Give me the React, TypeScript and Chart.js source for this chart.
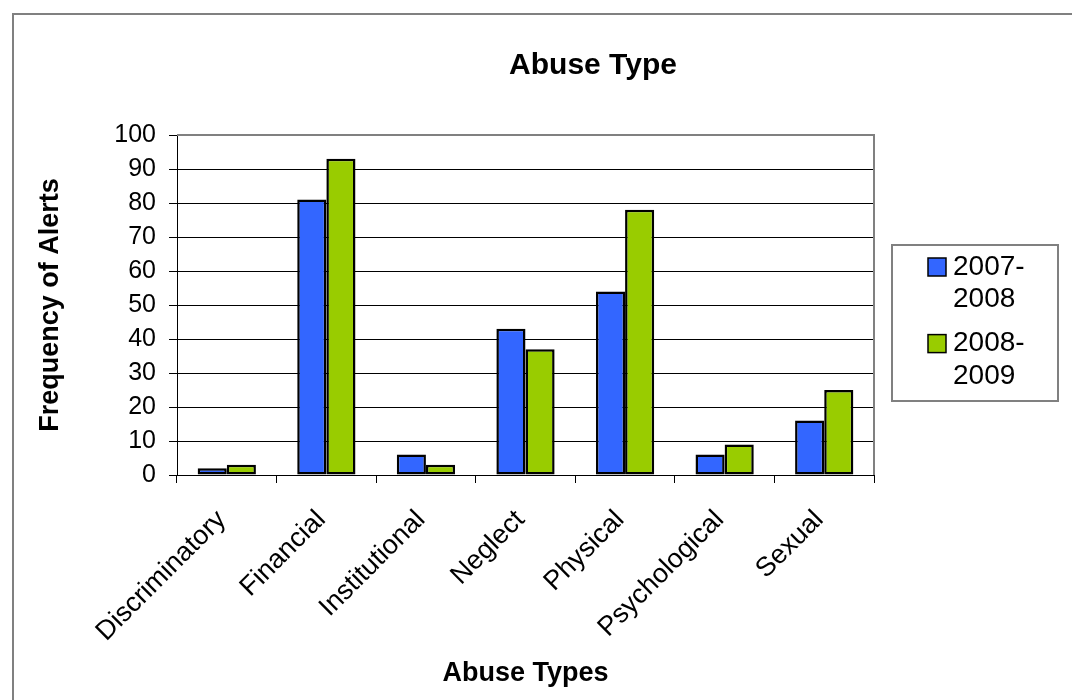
import React, { useEffect, useRef } from 'react';
import { Chart, registerables } from 'chart.js';

Chart.register(...registerables);

const CHART_TITLE = 'Abuse Type';
const X_TITLE = 'Abuse Types';
const Y_TITLE = 'Frequency of Alerts';
const CATEGORIES = ['Discriminatory', 'Financial', 'Institutional', 'Neglect', 'Physical', 'Psychological', 'Sexual'];
const SERIES_LABELS = ['2007-2008', '2008-2009'];
const VALUES_2007_2008 = [2, 81, 6, 43, 54, 6, 16];
const VALUES_2008_2009 = [3, 93, 3, 37, 78, 9, 25];
const SERIES_COLORS = ['#3366FF', '#99CC00'];
const Y_MIN = 0;
const Y_MAX = 100;
const Y_STEP = 10;

const FONT = '"Liberation Sans", Arial, Helvetica, sans-serif';

const decorPlugin = {
  id: 'decor',
  beforeDraw(chart: any) {
    const ctx = chart.ctx;
    ctx.save();
    ctx.fillStyle = '#ffffff';
    ctx.fillRect(0, 0, chart.width, chart.height);
    ctx.strokeStyle = '#808080';
    ctx.lineWidth = 2;
    ctx.beginPath();
    ctx.moveTo(13, chart.height + 10);
    ctx.lineTo(13, 14);
    ctx.lineTo(chart.width + 10, 14);
    ctx.stroke();
    ctx.restore();
  },
  afterDraw(chart: any) {
    const ctx = chart.ctx;
    const { left, top, right, bottom } = chart.chartArea;
    ctx.save();
    // plot area border (top and right)
    ctx.strokeStyle = '#808080';
    ctx.lineWidth = 2;
    ctx.beginPath();
    ctx.moveTo(left, top);
    ctx.lineTo(right, top);
    ctx.lineTo(right, bottom);
    ctx.stroke();

    // chart title
    ctx.fillStyle = '#000';
    ctx.font = `bold 30px ${FONT}`;
    ctx.textAlign = 'center';
    ctx.textBaseline = 'middle';
    ctx.fillText(CHART_TITLE, 593, 66);

    // legend
    ctx.strokeStyle = '#808080';
    ctx.lineWidth = 2;
    ctx.strokeRect(892, 245, 166, 156);
    ctx.font = `28px ${FONT}`;
    ctx.textAlign = 'left';
    chart.data.datasets.forEach((ds: any, i: number) => {
      const y0 = 267 + i * 76.6;
      ctx.fillStyle = ds.backgroundColor;
      ctx.fillRect(928, y0 - 9, 18, 18);
      ctx.strokeStyle = '#000';
      ctx.lineWidth = 1.5;
      ctx.strokeRect(928, y0 - 9, 18, 18);
      const lines = String(ds.label).replace('-', '-\n').split('\n');
      ctx.fillStyle = '#000';
      lines.forEach((ln: string, j: number) => {
        ctx.fillText(ln, 953, y0 + j * 32.5);
      });
    });
    ctx.restore();
  },
};

export default function App() {
  const ref = useRef<HTMLCanvasElement>(null);
  useEffect(() => {
    if (!ref.current) return;
    const chart = new Chart(ref.current, {
      type: 'bar',
      data: {
        labels: CATEGORIES,
        datasets: [
          {
            label: SERIES_LABELS[0],
            data: VALUES_2007_2008,
            backgroundColor: SERIES_COLORS[0],
            borderColor: '#000',
            borderWidth: 2.5,
            borderSkipped: false,
            barPercentage: 1,
            categoryPercentage: 0.585,
          },
          {
            label: SERIES_LABELS[1],
            data: VALUES_2008_2009,
            backgroundColor: SERIES_COLORS[1],
            borderColor: '#000',
            borderWidth: 2.5,
            borderSkipped: false,
            barPercentage: 1,
            categoryPercentage: 0.585,
          },
        ],
      },
      options: {
        animation: false,
        responsive: false,
        devicePixelRatio: 1,
        layout: { padding: { left: 20, right: 198, top: 135, bottom: 0 } },
        plugins: {
          legend: { display: false },
          title: { display: false },
          tooltip: { enabled: false },
        },
        scales: {
          x: {
            grid: { display: true, drawOnChartArea: false, drawTicks: true, tickLength: 8, color: '#000' },
            border: { display: true, color: '#000', width: 1 },
            ticks: {
              color: '#000',
              font: { family: FONT, size: 27 },
              minRotation: 45,
              maxRotation: 45,
              autoSkip: false,
              padding: 21,
              labelOffset: -5,
            },
            title: {
              display: true,
              text: X_TITLE,
              color: '#000',
              font: { family: FONT, size: 27, weight: 'bold' },
              padding: { top: 0, bottom: 10 },
            },
            afterFit: (scale: any) => {
              scale.height = 225;
            },
          },
          y: {
            min: Y_MIN,
            max: Y_MAX,
            grid: { color: '#000', lineWidth: 1, drawTicks: true, tickLength: 8 },
            border: { display: true, color: '#000', width: 1 },
            ticks: {
              stepSize: Y_STEP,
              color: '#000',
              font: { family: FONT, size: 25 },
              padding: 13,
            },
            title: {
              display: true,
              text: Y_TITLE,
              color: '#000',
              font: { family: FONT, size: 27, weight: 'bold' },
              padding: { top: 14, bottom: 0 },
            },
            afterFit: (scale: any) => {
              scale.width = 157;
            },
          },
        },
      },
      plugins: [decorPlugin],
    } as any);
    return () => chart.destroy();
  }, []);
  return (
    <div style={{ position: 'fixed', left: 0, top: 0, width: 1072, height: 700, background: '#fff' }}>
      <canvas ref={ref} width={1072} height={700} style={{ display: 'block', width: 1072, height: 700 }} />
    </div>
  );
}
